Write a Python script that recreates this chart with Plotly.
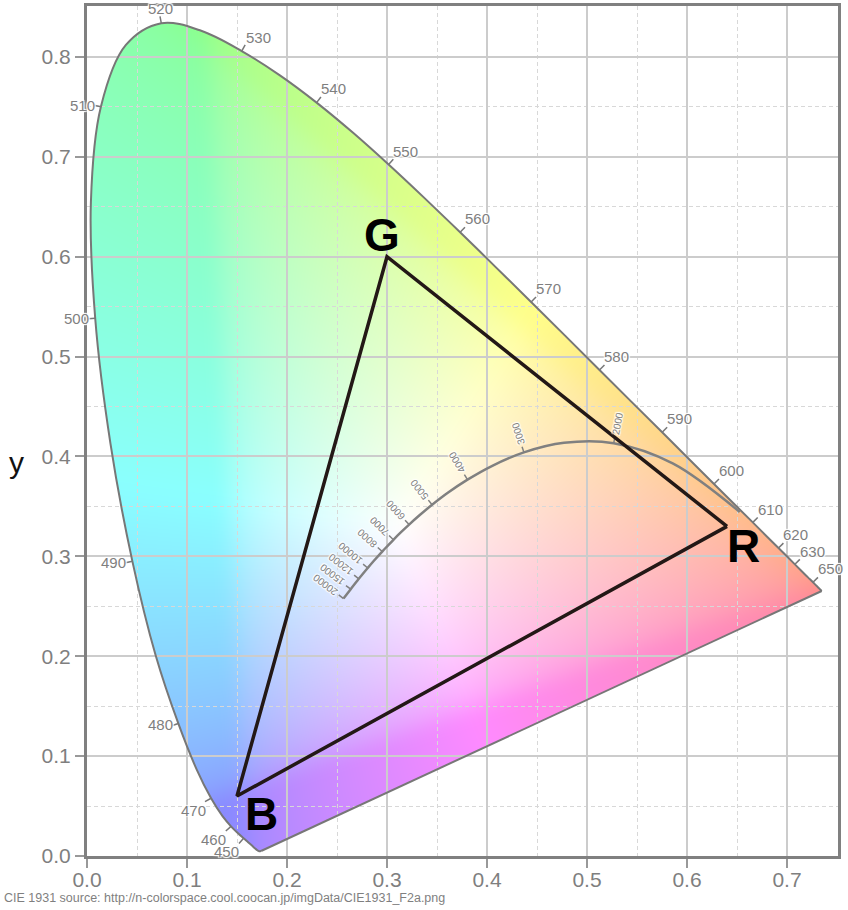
import base64
import struct
import zlib

import numpy as np
import plotly.graph_objects as go

# ---------------- data ----------------
wavelength_nm = list(range(380, 705, 5))
locus_x = [0.1741, 0.1740, 0.1738, 0.1736, 0.1733, 0.1730, 0.1726, 0.1721, 0.1714, 0.1703,
           0.1689, 0.1669, 0.1644, 0.1611, 0.1566, 0.1510, 0.1440, 0.1355, 0.1241, 0.1096,
           0.0913, 0.0687, 0.0454, 0.0235, 0.0082, 0.0039, 0.0139, 0.0389, 0.0743, 0.1142,
           0.1547, 0.1929, 0.2296, 0.2658, 0.3016, 0.3373, 0.3731, 0.4087, 0.4441, 0.4788,
           0.5125, 0.5448, 0.5752, 0.6029, 0.6270, 0.6482, 0.6658, 0.6801, 0.6915, 0.7006,
           0.7079, 0.7140, 0.7190, 0.7230, 0.7260, 0.7283, 0.7300, 0.7311, 0.7320, 0.7327,
           0.7334, 0.7340, 0.7344, 0.7346, 0.7347]
locus_y = [0.0050, 0.0050, 0.0049, 0.0049, 0.0048, 0.0048, 0.0048, 0.0048, 0.0051, 0.0058,
           0.0069, 0.0086, 0.0109, 0.0138, 0.0177, 0.0227, 0.0297, 0.0399, 0.0578, 0.0868,
           0.1327, 0.2007, 0.2950, 0.4127, 0.5384, 0.6548, 0.7502, 0.8120, 0.8338, 0.8262,
           0.8059, 0.7816, 0.7543, 0.7243, 0.6923, 0.6589, 0.6245, 0.5896, 0.5547, 0.5202,
           0.4866, 0.4544, 0.4242, 0.3965, 0.3725, 0.3514, 0.3340, 0.3197, 0.3083, 0.2993,
           0.2920, 0.2859, 0.2809, 0.2770, 0.2740, 0.2717, 0.2700, 0.2689, 0.2680, 0.2673,
           0.2666, 0.2660, 0.2656, 0.2654, 0.2653]
wavelength_labels = [450, 460, 470, 480, 490, 500, 510, 520, 530, 540, 550, 560, 570,
                     580, 590, 600, 610, 620, 630, 650]

planck_K = [1000, 1500, 2000, 2500, 3000, 3500, 4000, 4500, 5000, 5500, 6000, 6500,
            7000, 7500, 8000, 9000, 10000, 12000, 15000, 20000]
planck_x = [0.6528, 0.5857, 0.5267, 0.4770, 0.4369, 0.4053, 0.3805, 0.3608, 0.3451, 0.3325,
            0.3221, 0.3135, 0.3064, 0.3004, 0.2952, 0.2869, 0.2807, 0.2718, 0.2637, 0.2565]
planck_y = [0.3444, 0.3931, 0.4133, 0.4137, 0.4041, 0.3907, 0.3768, 0.3636, 0.3516, 0.3411,
            0.3318, 0.3237, 0.3166, 0.3103, 0.3048, 0.2956, 0.2883, 0.2775, 0.2671, 0.2577]
planck_labels = [2000, 3000, 4000, 5000, 6000, 7000, 8000, 10000, 12000, 15000, 20000]

primary_names = ["R", "G", "B"]
primary_x = [0.64, 0.30, 0.15]
primary_y = [0.33, 0.60, 0.06]
primary_label_shift = {"R": (16, -20), "G": (-5, 22), "B": (24, -18)}

x_ticks = [0.0, 0.1, 0.2, 0.3, 0.4, 0.5, 0.6, 0.7]
y_ticks = [0.0, 0.1, 0.2, 0.3, 0.4, 0.5, 0.6, 0.7, 0.8]
source_text = "CIE 1931 source: http://n-colorspace.cool.coocan.jp/imgData/CIE1931_F2a.png"

# ---------------- layout constants ----------------
X_MAX, Y_MAX = 0.751, 0.851
W, H = 848, 910
ML, MR, MT, MB = 87, 10, 6, 54
PW, PH = W - ML - MR, H - MT - MB
SX, SY = PW / X_MAX, PH / Y_MAX
FONT = "Liberation Sans, Arial, Helvetica, sans-serif"
GRAY = "#7f7f7f"
HALO = "1px 1px 1px #fff, -1px -1px 1px #fff, 1px -1px 1px #fff, -1px 1px 1px #fff"

# ---------------- colour fill image ----------------
def catmull(xs, ys, n=16):
    P = np.column_stack([xs, ys])
    P = np.vstack([P[0], P, P[-1]])
    out = []
    t = np.linspace(0, 1, n, endpoint=False)[:, None]
    for i in range(1, len(P) - 2):
        p0, p1, p2, p3 = P[i - 1], P[i], P[i + 1], P[i + 2]
        seg = 0.5 * (2 * p1 + (-p0 + p2) * t + (2 * p0 - 5 * p1 + 4 * p2 - p3) * t ** 2
                     + (-p0 + 3 * p1 - 3 * p2 + p3) * t ** 3)
        out.append(seg)
    out.append(P[-2][None])
    return np.vstack(out)


IW, IH = PW, PH
poly = catmull(locus_x, locus_y)
vx, vy = poly[:, 0], poly[:, 1]
vx2, vy2 = np.roll(vx, -1), np.roll(vy, -1)
cols = (np.arange(IW) + 0.5) * X_MAX / IW
rows = Y_MAX - (np.arange(IH) + 0.5) * Y_MAX / IH
mask = np.zeros((IH, IW), bool)
for r, yc in enumerate(rows):
    c = (vy <= yc) != (vy2 <= yc)
    if not c.any():
        continue
    xi = vx[c] + (yc - vy[c]) * (vx2[c] - vx[c]) / (vy2[c] - vy[c])
    xi.sort()
    for a, b in zip(xi[0::2], xi[1::2]):
        mask[r] |= (cols >= a) & (cols < b)


def xyz_col(x, y):
    return np.array([x / y, 1.0, (1 - x - y) / y])


# display primaries for the fill: spectral red, spectral green, sRGB blue; D65 white
prim = np.column_stack([xyz_col(0.7347, 0.2653), xyz_col(0.1152, 0.8264), xyz_col(0.150, 0.060)])
S = np.linalg.solve(prim, xyz_col(0.3127, 0.3290))
M_inv = np.linalg.inv(prim * S)

GX, GY = np.meshgrid(cols, rows)
yy = np.maximum(GY, 2e-3)
XYZ = np.stack([GX / yy, np.ones_like(yy), (1 - GX - yy) / yy], axis=-1)
rgb = XYZ @ M_inv.T
rgb = np.clip(rgb, 0, None)
rgb = rgb / np.maximum(rgb.max(axis=-1, keepdims=True), 1e-9)
rgb = np.where(rgb <= 0.0031308, 12.92 * rgb, 1.055 * np.power(rgb, 1 / 2.4) - 0.055)


def box_blur(a, r, axis):
    pad = [(0, 0)] * a.ndim
    pad[axis] = (r + 1, r)
    ap = np.pad(a, pad, mode="edge")
    cs = np.cumsum(ap, axis=axis)
    n = a.shape[axis]
    hi = np.take(cs, np.arange(2 * r + 1, 2 * r + 1 + n), axis=axis)
    lo = np.take(cs, np.arange(0, n), axis=axis)
    return (hi - lo) / (2 * r + 1)


for _ in range(3):
    rgb = box_blur(rgb, 8, 0)
    rgb = box_blur(rgb, 8, 1)

WHITE_MIX = 0.54
rgb = WHITE_MIX + (1 - WHITE_MIX) * rgb
img = np.zeros((IH, IW, 4), np.uint8)
img[..., :3] = np.clip(np.round(rgb * 255), 0, 255).astype(np.uint8)
img[..., 3] = np.where(mask, 255, 0).astype(np.uint8)


def png_uri(a):
    h, w, _ = a.shape
    raw = b"".join(b"\x00" + a[i].tobytes() for i in range(h))

    def chunk(tag, data):
        return (struct.pack(">I", len(data)) + tag + data
                + struct.pack(">I", zlib.crc32(tag + data) & 0xFFFFFFFF))

    png = (b"\x89PNG\r\n\x1a\n"
           + chunk(b"IHDR", struct.pack(">IIBBBBB", w, h, 8, 6, 0, 0, 0))
           + chunk(b"IDAT", zlib.compress(raw, 9))
           + chunk(b"IEND", b""))
    return "data:image/png;base64," + base64.b64encode(png).decode()


# ---------------- figure ----------------
fig = go.Figure()
annotations = []

lx, ly = np.array(locus_x), np.array(locus_y)

# spectral locus outline
fig.add_trace(go.Scatter(x=locus_x, y=locus_y, mode="lines",
                         line=dict(color="#777777", width=2, shape="spline"),
                         hoverinfo="skip", showlegend=False))
fig.add_trace(go.Scatter(x=[locus_x[-1], locus_x[0]], y=[locus_y[-1], locus_y[0]], mode="lines",
                         line=dict(color="#777777", width=2),
                         hoverinfo="skip", showlegend=False))

# wavelength ticks + labels
TL = 7
tx_l, ty_l = [], []
for wl in wavelength_labels:
    i = wavelength_nm.index(wl)
    dx = (lx[i + 1] - lx[i - 1]) * SX
    dy = (ly[i + 1] - ly[i - 1]) * SY
    nrm = np.hypot(dx, dy)
    nx, ny = -dy / nrm, dx / nrm
    tx_l += [lx[i], lx[i] + nx * TL / SX, None]
    ty_l += [ly[i], ly[i] + ny * TL / SY, None]
    xa = "left" if nx > 0.4 else ("right" if nx < -0.4 else "center")
    ya = "bottom" if ny > 0.4 else ("top" if ny < -0.4 else "middle")
    annotations.append(dict(x=lx[i], y=ly[i], xref="x", yref="y", text=str(wl), showarrow=False,
                            xshift=nx * (TL - 3), yshift=ny * (TL - 3), xanchor=xa, yanchor=ya,
                            font=dict(family=FONT, size=15, color=GRAY, shadow=HALO)))
fig.add_trace(go.Scatter(x=tx_l, y=ty_l, mode="lines", line=dict(color="#777777", width=1.5),
                         hoverinfo="skip", showlegend=False))

# Planckian locus
px_, py_ = np.array(planck_x), np.array(planck_y)
fig.add_trace(go.Scatter(x=planck_x, y=planck_y, mode="lines",
                         line=dict(color="#808080", width=2.5, shape="spline"),
                         hoverinfo="skip", showlegend=False))
PT = 6
ptx, pty = [], []
for k in planck_labels:
    i = planck_K.index(k)
    i0, i1 = max(i - 1, 0), min(i + 1, len(planck_K) - 1)
    dx = (px_[i1] - px_[i0]) * SX
    dy = (py_[i1] - py_[i0]) * SY
    nrm = np.hypot(dx, dy)
    nx, ny = dy / nrm, -dx / nrm
    ptx += [px_[i], px_[i] + nx * PT / SX, None]
    pty += [py_[i], py_[i] + ny * PT / SY, None]
    L = 5.6 * len(str(k))
    d = PT + 3 + L / 2
    ang = np.degrees(np.arctan2(ny, nx))
    annotations.append(dict(x=px_[i], y=py_[i], xref="x", yref="y", text=str(k), showarrow=False,
                            xshift=nx * d, yshift=ny * d, xanchor="center", yanchor="middle",
                            textangle=-ang,
                            font=dict(family=FONT, size=10, color="#808080", shadow=HALO)))
fig.add_trace(go.Scatter(x=ptx, y=pty, mode="lines", line=dict(color="#808080", width=1.5),
                         hoverinfo="skip", showlegend=False))

# sRGB triangle
fig.add_trace(go.Scatter(x=primary_x + [primary_x[0]], y=primary_y + [primary_y[0]], mode="lines",
                         line=dict(color="#231816", width=3.5),
                         hoverinfo="skip", showlegend=False))
for nme, x0, y0 in zip(primary_names, primary_x, primary_y):
    sx, sy = primary_label_shift[nme]
    annotations.append(dict(x=x0, y=y0, xref="x", yref="y", text="<b>%s</b>" % nme, showarrow=False,
                            xshift=sx, yshift=sy, xanchor="center", yanchor="middle",
                            font=dict(family=FONT, size=46, color="#000000")))

# axis title and source
annotations.append(dict(x=(16 - ML) / PW, y=(PH + MT - 462) / PH, xref="paper", yref="paper",
                        text="y", showarrow=False, xanchor="center", yanchor="middle",
                        font=dict(family=FONT, size=30, color="#111111")))
annotations.append(dict(x=(2 - ML) / PW, y=(PH + MT - 898) / PH, xref="paper", yref="paper",
                        text=source_text, showarrow=False, xanchor="left", yanchor="middle",
                        font=dict(family=FONT, size=12.5, color=GRAY)))

axis_common = dict(
    showline=True, linecolor="#808080", linewidth=3, mirror=True, automargin=False,
    ticks="outside", ticklen=9, tickwidth=1.5, tickcolor="#999999",
    tickformat=".1f", tickfont=dict(family=FONT, size=21, color=GRAY),
    showgrid=True, gridcolor="#cccccc", gridwidth=1.5, zeroline=False,
    minor=dict(dtick=0.05, showgrid=True, gridcolor="#d8d8d8", griddash="4px,3px", gridwidth=1, ticks=""),
)
fig.update_layout(
    width=W, height=H,
    margin=dict(l=ML, r=MR, t=MT, b=MB, autoexpand=False),
    paper_bgcolor="white", plot_bgcolor="white",
    xaxis=dict(range=[0, X_MAX], tickvals=x_ticks, ticklabelstandoff=-6, **axis_common),
    yaxis=dict(range=[0, Y_MAX], tickvals=y_ticks, **axis_common),
    annotations=annotations,
    images=[dict(source=png_uri(img), xref="x", yref="y", x=0, y=Y_MAX, sizex=X_MAX, sizey=Y_MAX,
                 xanchor="left", yanchor="top", sizing="stretch", layer="below")],
    showlegend=False,
)

fig.write_html("out.html", config={"displayModeBar": False},
               post_script="document.body.style.margin='0';")
